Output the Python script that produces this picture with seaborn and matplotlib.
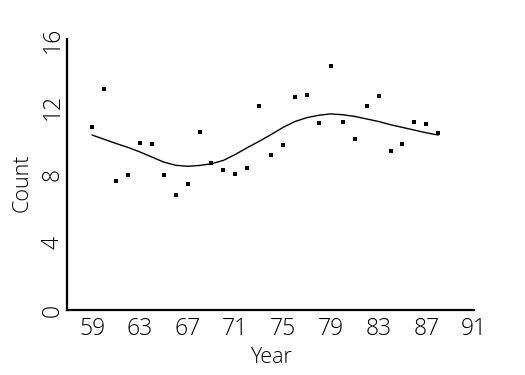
import matplotlib
matplotlib.use("Agg")
import matplotlib.pyplot as plt
import seaborn as sns
import pandas as pd

years = list(range(59, 89))
counts = [10.82, 13.10, 7.63, 8.00, 9.86, 9.84, 8.00, 6.81, 7.47, 10.55,
          8.69, 8.29, 8.04, 8.41, 12.09, 9.16, 9.76, 12.57, 12.71, 11.06,
          14.45, 11.12, 10.12, 12.04, 12.66, 9.39, 9.80, 11.12, 10.98, 10.45]
smooth = [10.35, 10.10, 9.85, 9.62, 9.35, 9.05, 8.75, 8.56, 8.50, 8.55,
          8.65, 8.85, 9.20, 9.60, 9.98, 10.38, 10.80, 11.15, 11.38, 11.52,
          11.60, 11.55, 11.45, 11.30, 11.15, 10.96, 10.80, 10.64, 10.48, 10.35]
xticks = list(range(59, 92, 2))
xticklabels = [str(v) if (v - 59) % 4 == 0 else "" for v in xticks]
yticks = [0, 4, 8, 12, 16]

df = pd.DataFrame({"Year": years, "Count": counts, "Smooth": smooth})

sns.set_style("white")
FAM = ["Open Sans", "DejaVu Sans"]
W = 300
plt.rcParams["font.family"] = FAM
plt.rcParams["text.color"] = "black"

fig = plt.figure(figsize=(5.25, 3.75), dpi=100)
ax = fig.add_axes([0.1276, 0.1733, 0.7754, 0.7214])

sns.lineplot(data=df, x="Year", y="Smooth", ax=ax, color="black", linewidth=1.0)
sns.scatterplot(data=df, x="Year", y="Count", ax=ax, color="black", marker="s",
                s=6, linewidth=0, edgecolor="black")

ax.set_xlim(56.9, 91)
ax.set_ylim(0, 16)
ax.set_xticks(xticks)
ax.set_xticklabels(xticklabels, fontsize=16.5, fontweight=W, family=FAM, color="black")
ax.set_yticks(yticks)
ax.set_yticklabels([str(v) for v in yticks], rotation=90, va="center",
                   fontsize=16.5, fontweight=W, family=FAM, color="black")

for s in ["top", "right"]:
    ax.spines[s].set_visible(False)
for s in ["left", "bottom"]:
    ax.spines[s].set_linewidth(1.6)
    ax.spines[s].set_color("black")

ax.tick_params(axis="x", direction="in", length=5, width=1, pad=5, colors="black")
ax.tick_params(axis="y", direction="inout", length=9, width=1, pad=-3, colors="black")

ax.set_xlabel("Year", fontsize=15.5, fontweight=W, family=FAM, labelpad=4, color="black")
ax.set_ylabel("Count", fontsize=15.5, fontweight=W, family=FAM, color="black")
ax.yaxis.set_label_coords(-0.0835, 0.47)

fig.savefig("out.png", dpi=100)
